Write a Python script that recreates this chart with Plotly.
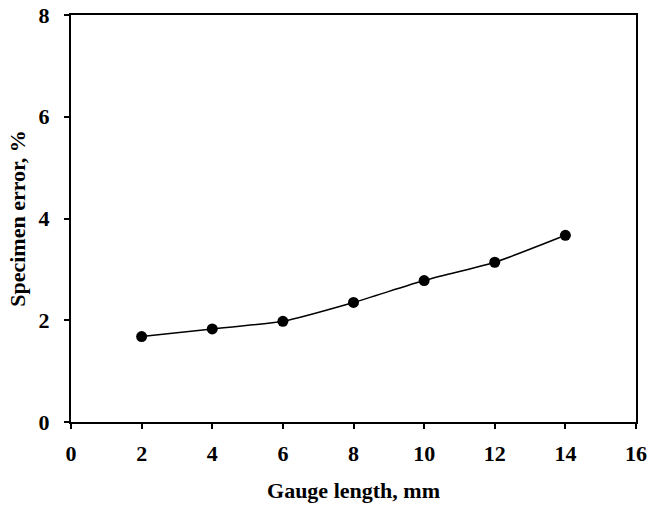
import plotly.graph_objects as go

# Specimen error as a function of gauge length
gauge_length_mm = [2, 4, 6, 8, 10, 12, 14]
specimen_error_pct = [1.68, 1.83, 1.98, 2.35, 2.78, 3.14, 3.67]

x_ticks = [0, 2, 4, 6, 8, 10, 12, 14, 16]
y_ticks = [0, 2, 4, 6, 8]

FONT = "Liberation Serif"

fig = go.Figure()
fig.add_trace(go.Scatter(
    x=gauge_length_mm,
    y=specimen_error_pct,
    mode="lines+markers",
    line=dict(color="black", width=1.5, shape="spline", smoothing=0.6),
    marker=dict(color="black", size=11, symbol="circle"),
    showlegend=False,
))

axis_common = dict(
    showline=True,
    linecolor="black",
    linewidth=2,
    mirror=True,
    ticks="outside",
    ticklen=5,
    tickwidth=1.5,
    tickcolor="black",
    showgrid=False,
    zeroline=False,
    automargin=False,
    tickfont=dict(family=FONT, size=22, color="black"),
)

fig.update_xaxes(
    **axis_common,
    range=[0, 16],
    tickvals=x_ticks,
    ticktext=[f"<b>{v}</b>" for v in x_ticks],
    ticklabelstandoff=6,
    title=dict(text="<b>Gauge length, mm</b>", standoff=17,
               font=dict(family=FONT, size=22, color="black")),
)
fig.update_yaxes(
    **axis_common,
    range=[0, 8],
    tickvals=y_ticks,
    ticktext=[f"<b>{v}</b>" for v in y_ticks],
    ticklabelstandoff=10,
    title=dict(text="<b>Specimen error, %</b>", standoff=7,
               font=dict(family=FONT, size=22, color="black")),
)

fig.update_layout(
    width=647,
    height=506,
    margin=dict(l=71, r=11, t=15, b=84),
    plot_bgcolor="white",
    paper_bgcolor="white",
)

fig.write_html("out.html")
